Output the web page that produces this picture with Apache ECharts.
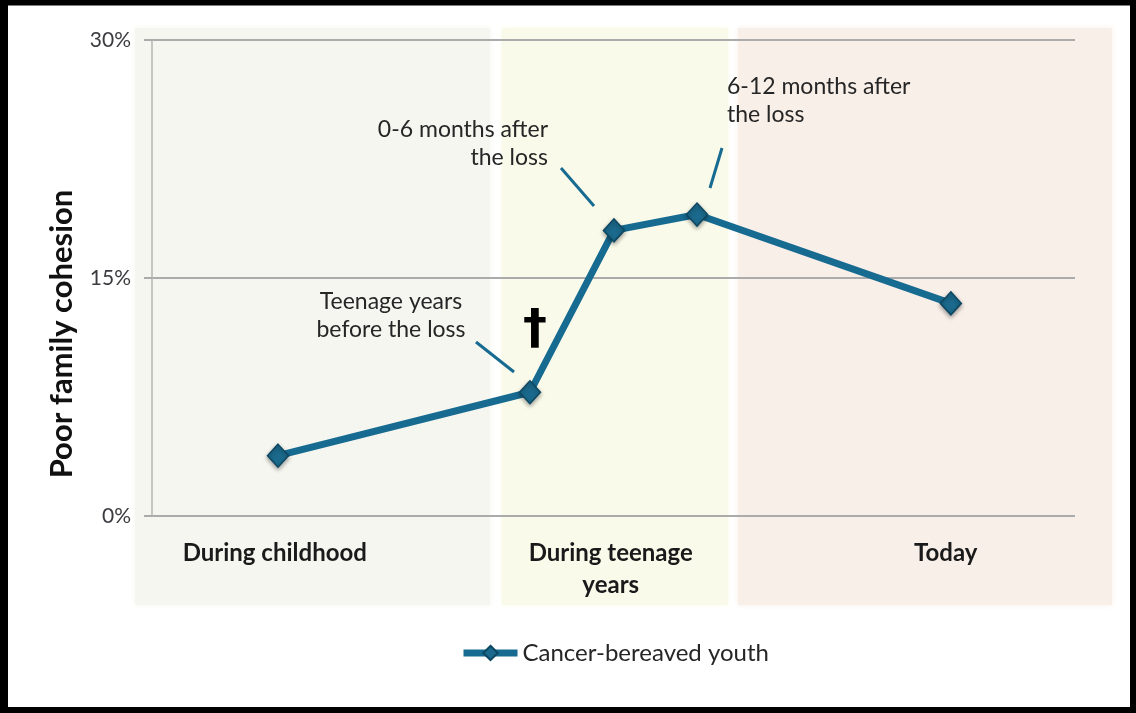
<!DOCTYPE html>
<html>
<head>
<meta charset="utf-8">
<script src="https://cdn.jsdelivr.net/npm/echarts@6/dist/echarts.min.js"></script>
<style>
  html, body { margin: 0; padding: 0; background: #fff; }
  #chart { width: 1136px; height: 713px; }
</style>
</head>
<body>
<div id="chart"></div>
<script>
// category labels under the x axis and where they sit on the 0-100 time scale
const categories = ['During childhood', 'During teenage\nyears', 'Today']
const categoryPos = [13.3, 49.7, 86.0]

// measured time points
const timepoints = ['During childhood', 'Teenage years before the loss', '0-6 months after the loss', '6-12 months after the loss', 'Today']
const timeX = [13.65, 40.95, 50.05, 59.05, 86.55]
const cohesion = [3.8, 7.8, 18.0, 19.0, 13.4]

const yTicks = [0, 15, 30]
const seriesName = 'Cancer-bereaved youth'
const yTitle = 'Poor family cohesion'

const FONT = 'Lato, "Open Sans", sans-serif'
const LINE = '#176b91'

let chart = echarts.init(document.getElementById('chart'))

function band (x, w, color) {
  return {
    type: 'rect', z: -10, silent: true,
    shape: { x: x, y: 28, width: w, height: 577 },
    style: { fill: color, shadowBlur: 6, shadowColor: color }
  }
}

function note (x, y, text, align) {
  return {
    type: 'text', z: 10, silent: true,
    x: x, y: y,
    style: {
      text: text, fill: '#262626', font: '23px ' + FONT,
      align: align, verticalAlign: 'top', lineHeight: 28
    }
  }
}

function leader (x1, y1, x2, y2) {
  return {
    type: 'line', z: 10, silent: true,
    shape: { x1: x1, y1: y1, x2: x2, y2: y2 },
    style: { stroke: LINE, lineWidth: 3 }
  }
}

let option = {
  animation: false,
  backgroundColor: '#fff',
  grid: { left: 152, right: 61, top: 40, bottom: 197 },
  legend: {
    left: 455, top: 636,
    itemWidth: 54, itemHeight: 18, itemGap: 10,
    textStyle: { fontFamily: FONT, fontSize: 24, color: '#262626' },
    data: [{ name: seriesName, lineStyle: { width: 7 } }]
  },
  xAxis: {
    type: 'value', min: 0, max: 100,
    splitLine: { show: false },
    axisLine: { show: false },
    axisTick: { show: false },
    axisLabel: {
      customValues: categoryPos,
      formatter: v => categories[categoryPos.indexOf(v)],
      margin: 21,
      fontFamily: FONT, fontSize: 24, fontWeight: 'bold',
      color: '#1a1a1a', lineHeight: 32, align: 'center'
    }
  },
  yAxis: {
    type: 'value', min: 0, max: 30, interval: 15,
    axisLine: { show: true, lineStyle: { color: '#b4b4b4', width: 1.5 } },
    axisTick: { show: true, length: 8, lineStyle: { color: '#ababab', width: 2 } },
    splitLine: { lineStyle: { color: '#ababab', width: 2 } },
    axisLabel: {
      customValues: yTicks,
      formatter: '{value}%', margin: 21,
      fontFamily: FONT, fontSize: 21, color: '#3b3b40'
    }
  },
  graphic: [
    band(135, 355, '#f6f6f1'),
    band(502, 226, '#fafaeb'),
    band(738, 374, '#f8efe9'),
    {
      type: 'text', silent: true, x: 62, y: 334, rotation: Math.PI / 2,
      style: { text: yTitle, fill: '#111', font: 'bold 31px ' + FONT, align: 'center', verticalAlign: 'middle' }
    },
    note(391, 288, 'Teenage years\nbefore the loss', 'center'),
    leader(476, 342, 514, 372),
    note(548, 116, '0-6 months after\nthe loss', 'right'),
    leader(561, 168, 594, 206),
    note(727, 73, '6-12 months after\nthe loss', 'left'),
    leader(722, 148, 710, 188),
    {
      type: 'text', z: 10, silent: true, x: 535, y: 331,
      style: { text: '†', fill: '#000', font: 'bold 48px "DejaVu Sans", sans-serif', align: 'center', verticalAlign: 'middle' }
    },
    { type: 'rect', z: 100, silent: true, shape: { x: 3, y: 2.5, width: 1130, height: 707.5 }, style: { fill: null, stroke: '#000', lineWidth: 6 } },
    { type: 'rect', z: 100, silent: true, shape: { x: 0, y: 0, width: 8, height: 713 }, style: { fill: '#000' } }
  ],
  series: [{
    name: seriesName,
    type: 'line',
    data: timeX.map((x, i) => [x, cohesion[i]]),
    symbol: 'diamond',
    symbolSize: [21, 23],
    showAllSymbol: true,
    lineStyle: { color: LINE, width: 7 },
    itemStyle: {
      color: '#1b6a8d', borderColor: '#0d4762', borderWidth: 1.5,
      shadowBlur: 4, shadowColor: 'rgba(0,0,0,0.35)', shadowOffsetY: 2
    },
    emphasis: { disabled: true }
  }]
}

chart.setOption(option)
</script>
</body>
</html>
